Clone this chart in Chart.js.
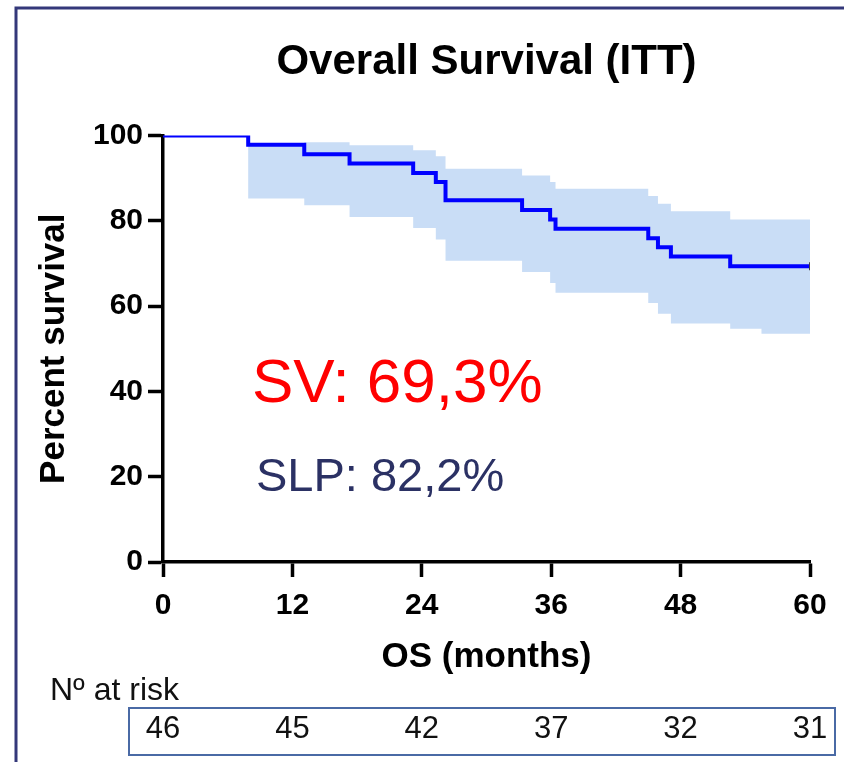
<!DOCTYPE html>
<html>
<head>
<meta charset="utf-8">
<script src="https://cdn.jsdelivr.net/npm/chart.js@4.4.1/dist/chart.umd.min.js"></script>
<style>
  html, body { margin: 0; padding: 0; background: #ffffff; }
  #wrap { width: 844px; height: 762px; }
</style>
</head>
<body>
<div id="wrap"><canvas id="os-chart" width="844" height="762"></canvas></div>
<script>
// --- DATOS ---
// Curva Kaplan-Meier (meses, % supervivencia)
const kmTimes = [0, 7.9, 13.1, 17.3, 23.2, 25.3, 26.2, 33.3, 35.9, 36.4, 45.0, 45.9, 47.1, 52.6, 60];
const kmSurvival = [100, 97.8, 95.6, 93.4, 91.2, 89.1, 84.8, 82.5, 80.3, 78.1, 75.9, 73.8, 71.6, 69.3, 69.3];

// Intervalo de confianza 95%
const bandTimes = [0, 7.9, 13.1, 17.3, 23.2, 25.3, 26.2, 33.3, 35.9, 36.4, 45.0, 45.9, 47.1, 52.6, 55.5, 60];
const bandUpper = [100, 97.8, 98.4, 97.7, 96.5, 95.1, 92.2, 90.6, 89.1, 87.5, 85.8, 84.0, 82.2, 80.3, 80.3, 80.3];
const bandLower = [100, 85.2, 83.6, 80.9, 78.3, 75.6, 70.6, 68.0, 65.4, 63.1, 60.7, 58.2, 55.9, 54.7, 53.5, 53.5];

// Pacientes en riesgo
const riskTimes = [0, 12, 24, 36, 48, 60];
const riskCounts = [46, 45, 42, 37, 32, 31];

// Ejes
const xTicks = [0, 12, 24, 36, 48, 60];
const yTicks = [0, 20, 40, 60, 80, 100];

const FONT = '"Liberation Sans", Arial, Helvetica, sans-serif';

const toPoints = (xs, ys) => xs.map((x, i) => ({ x: x, y: ys[i] }));

/**
 * Marco, anotaciones y tabla de pacientes en riesgo.
 */
const extrasPlugin = {
    id: 'extras',
    beforeDraw: (chart) => {
        const ctx = chart.ctx;
        ctx.save();
        ctx.fillStyle = '#ffffff';
        ctx.fillRect(0, 0, chart.width, chart.height);
        ctx.strokeStyle = '#34387a';
        ctx.lineWidth = 3;
        ctx.beginPath();
        ctx.moveTo(16, chart.height);
        ctx.lineTo(16, 8);
        ctx.lineTo(chart.width, 8);
        ctx.stroke();
        ctx.restore();
    },
    afterDraw: (chart) => {
        const ctx = chart.ctx;
        const xScale = chart.scales.x;
        ctx.save();
        ctx.textBaseline = 'alphabetic';
        ctx.textAlign = 'left';

        ctx.fillStyle = '#ff0000';
        ctx.font = `62px ${FONT}`;
        ctx.fillText('SV: 69,3%', 252, 402);

        ctx.fillStyle = '#2b3164';
        ctx.font = `47px ${FONT}`;
        ctx.fillText('SLP: 82,2%', 256, 491);

        ctx.fillStyle = '#111111';
        ctx.font = `32px ${FONT}`;
        ctx.fillText('Nº at risk', 50, 700);

        ctx.strokeStyle = '#4a6aa5';
        ctx.lineWidth = 2;
        ctx.strokeRect(129, 708, 706, 47);

        ctx.textAlign = 'center';
        ctx.textBaseline = 'middle';
        ctx.font = `31px ${FONT}`;
        riskTimes.forEach((t, i) => {
            ctx.fillText(String(riskCounts[i]), xScale.getPixelForValue(t), 729);
        });
        ctx.restore();
    }
};

const lastIdx = kmTimes.length - 1;

new Chart(document.querySelector('#os-chart'), {
    type: 'line',
    data: {
        datasets: [
            {
                label: 'OS',
                data: toPoints(kmTimes, kmSurvival),
                stepped: 'before',
                borderColor: '#0000ff',
                borderWidth: 4,
                fill: false,
                pointStyle: 'line',
                rotation: 90,
                pointRadius: (c) => (c.dataIndex === lastIdx ? 4 : 0),
                pointBorderColor: '#444444',
                pointBorderWidth: 2,
                order: 0,
            },
            {
                label: 'IC superior',
                data: toPoints(bandTimes, bandUpper),
                stepped: 'before',
                borderColor: 'rgba(0,0,0,0)',
                borderWidth: 0,
                backgroundColor: 'rgb(201,221,246)',
                fill: '+1',
                pointRadius: 0,
                order: 1,
            },
            {
                label: 'IC inferior',
                data: toPoints(bandTimes, bandLower),
                stepped: 'before',
                borderColor: 'rgba(0,0,0,0)',
                borderWidth: 0,
                fill: false,
                pointRadius: 0,
                order: 2,
            }
        ]
    },
    options: {
        responsive: false,
        animation: false,
        layout: { padding: { top: 0, right: 34, bottom: 80, left: 0 } },
        plugins: {
            legend: { display: false },
            tooltip: { enabled: false },
            title: {
                display: true,
                text: 'Overall Survival (ITT)',
                fullSize: false,
                color: '#000000',
                font: { family: FONT, size: 42, weight: 'bold', lineHeight: 1.2 },
                padding: { top: 37, bottom: 48 },
            }
        },
        scales: {
            x: {
                type: 'linear',
                min: 0,
                max: 60,
                afterBuildTicks: (s) => { s.ticks = xTicks.map(v => ({ value: v })); },
                afterFit: (s) => { s.height = 120; },
                ticks: {
                    color: '#000000',
                    padding: 11,
                    font: { family: FONT, size: 30, weight: 'bold' },
                },
                grid: {
                    drawOnChartArea: false,
                    drawTicks: true,
                    tickLength: 15,
                    tickWidth: 3.5,
                    tickColor: '#000000',
                },
                border: { display: true, color: '#000000', width: 3.5 },
                title: {
                    display: true,
                    text: 'OS (months)',
                    color: '#000000',
                    font: { family: FONT, size: 35, weight: 'bold', lineHeight: 1.2 },
                    padding: { top: 0, bottom: 4 },
                }
            },
            y: {
                type: 'linear',
                min: 0,
                max: 100,
                afterBuildTicks: (s) => { s.ticks = yTicks.map(v => ({ value: v })); },
                afterFit: (s) => { s.width = 163; },
                ticks: {
                    color: '#000000',
                    padding: 5,
                    font: { family: FONT, size: 30, weight: 'bold' },
                },
                grid: {
                    drawOnChartArea: false,
                    drawTicks: true,
                    tickLength: 15,
                    tickWidth: 3.5,
                    tickColor: '#000000',
                },
                border: { display: true, color: '#000000', width: 3.5 },
                title: {
                    display: true,
                    text: 'Percent survival',
                    color: '#000000',
                    font: { family: FONT, size: 35, weight: 'bold', lineHeight: 1.2 },
                    padding: { top: 33, bottom: 0 },
                }
            }
        }
    },
    plugins: [extrasPlugin]
});
</script>
</body>
</html>
